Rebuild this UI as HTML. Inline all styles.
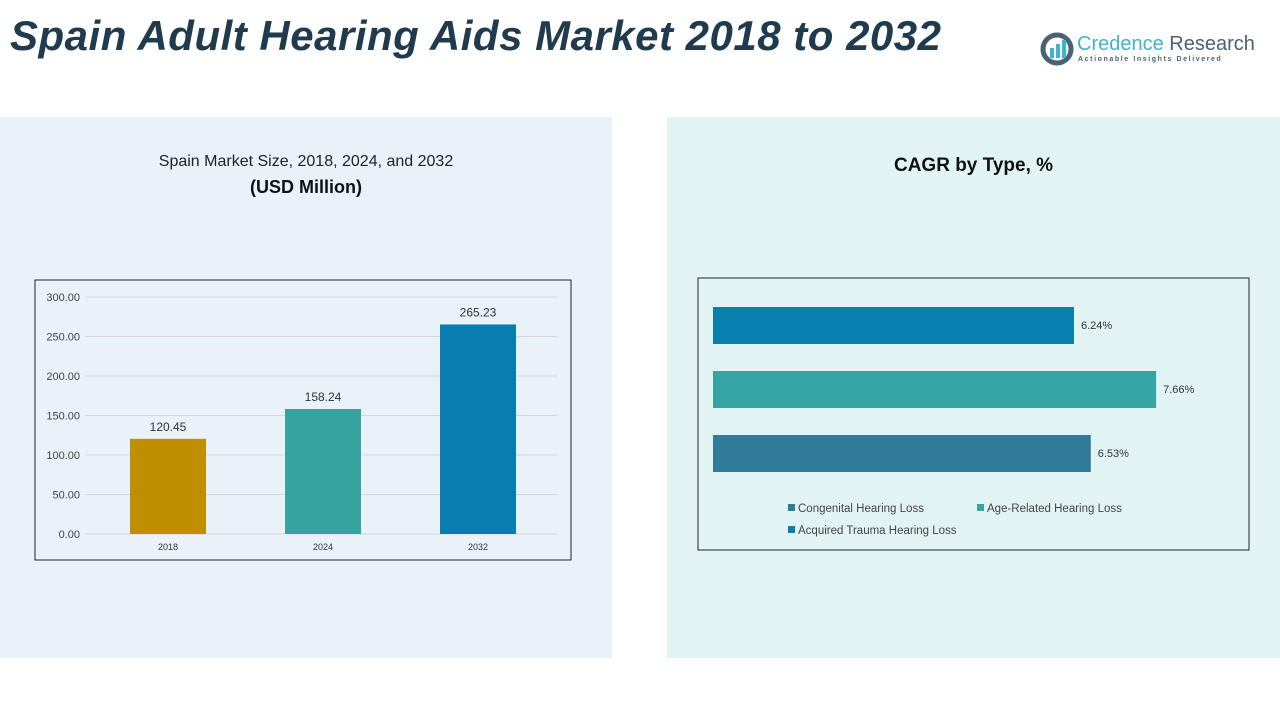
<!DOCTYPE html>
<html><head><meta charset="utf-8"><style>
body{margin:0;width:1280px;height:720px;background:#fff;position:relative;overflow:hidden;font-family:"Liberation Sans",sans-serif}
.abs{position:absolute}
</style></head><body>
<div class="abs" style="left:10px;top:12px;font-size:42px;letter-spacing:0.5px;font-weight:bold;font-style:italic;color:#1f3b4d;white-space:nowrap">Spain Adult Hearing Aids Market 2018 to 2032</div>
<div class="abs" style="left:1040px;top:32px;width:215px;height:40px">
<svg width="34" height="34" style="position:absolute;left:0;top:0"><circle cx="17" cy="17" r="14" fill="none" stroke="#4a6273" stroke-width="5"/><rect x="10" y="16" width="4" height="10" fill="#3fb3d0"/><rect x="16" y="12" width="4" height="14" fill="#3fb3d0"/><rect x="22" y="8" width="4" height="18" fill="#3fb3d0"/></svg>
<div class="abs" style="left:37px;top:1px;font-size:20px;color:#3fb3d0;white-space:nowrap">Credence <span style="color:#4a6273">Research</span></div>
<div class="abs" style="left:38px;top:24px;font-size:7px;letter-spacing:1.6px;color:#4a6273;white-space:nowrap;font-weight:bold">Actionable Insights Delivered</div>
</div>
<div class="abs" style="left:0;top:117px;width:612px;height:541px;background:#e9f2f8"></div>
<div class="abs" style="left:667px;top:117px;width:613px;height:541px;background:#e2f3f4"></div>
<div class="abs" style="left:0;top:153px;width:612px;text-align:center;font-size:16px;color:#222">Spain Market Size, 2018, 2024, and 2032</div>
<div class="abs" style="left:0;top:177px;width:612px;text-align:center;font-size:18px;font-weight:bold;color:#111">(USD Million)</div>
<div class="abs" style="left:667px;top:155px;width:613px;text-align:center;font-size:19px;font-weight:bold;color:#111">CAGR by Type, %</div>
<svg class="abs" style="left:0;top:0" width="1280" height="720" id="svg"></svg>
<script>
const years=["2018","2024","2032"];
const sizes=[120.45,158.24,265.23];
const yTicks=[0,50,100,150,200,250,300];
const types=["Acquired Trauma Hearing Loss","Age-Related Hearing Loss","Congenital Hearing Loss"];
const cagr=[6.24,7.66,6.53];
const NS="http://www.w3.org/2000/svg";
const svg=document.getElementById('svg');
function mk(t,a,txt){const e=document.createElementNS(NS,t);for(const k in a)e.setAttribute(k,a[k]);if(txt!==undefined)e.textContent=txt;svg.appendChild(e);return e;}
let r=mk('rect',{x:35,y:280,width:536,height:280,fill:'none',stroke:'#222','stroke-width':1});


const yS=v=>534-v*237/300;
const xS=i=>168+i*155;
yTicks.forEach(v=>{
 const l=mk('line',{x1:85,x2:558,y1:yS(v),y2:yS(v),stroke:'#d6d6d6','stroke-width':1});
 
 
 const t=mk('text',{x:80,y:yS(v)+4,'text-anchor':'end','font-size':11,fill:'#444'},v.toFixed(2));
 
 
});
const cols=['#c08f00','#35a3a0','#0a7db0'];
sizes.forEach((v,i)=>{
 const b=mk('rect',{x:xS(i)-38,y:yS(v),width:76,height:534-yS(v),fill:cols[i]});
 
 
 const t=mk('text',{x:xS(i),y:yS(v)-8,'text-anchor':'middle','font-size':12,fill:'#333'},v.toFixed(2));
 
 
 const x=mk('text',{x:xS(i),y:550,'text-anchor':'middle','font-size':9,fill:'#333'},years[i]);
 
 
});
r=mk('rect',{x:698,y:278,width:551,height:272,fill:'none',stroke:'#222','stroke-width':1});


const hx=v=>713+v*57.85;
const hcols=['#0a80b1','#35a5a3','#317b9a'];
cagr.forEach((v,i)=>{
 const y=307+i*64;
 const b=mk('rect',{x:713,y:y,width:hx(v)-713,height:37,fill:hcols[i]});
 
 
 const t=mk('text',{x:hx(v)+7,y:y+22,'font-size':11,fill:'#333'},v.toFixed(2)+'%');
 
 
});
const leg=[["Congenital Hearing Loss",788,511,'#317b9a'],["Age-Related Hearing Loss",977,511,'#35a5a3'],["Acquired Trauma Hearing Loss",788,533,'#0a80b1']];
leg.forEach(l=>{
 const s=mk('rect',{x:l[1],y:l[2]-7,width:7,height:7,fill:l[3]});
 
 
 const t=mk('text',{x:l[1]+10,y:l[2]+1,'font-size':11.5,fill:'#444'},l[0]);
 
 
});
</script>
</body></html>
